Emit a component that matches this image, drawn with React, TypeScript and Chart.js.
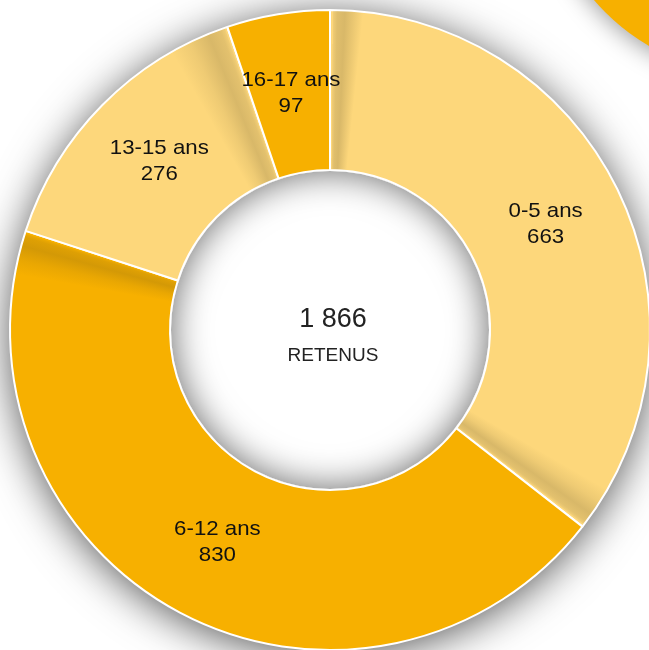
import React, { useEffect, useRef } from "react";
import { Chart, registerables } from "chart.js";

Chart.register(...registerables);

const categories = ["0-5 ans", "6-12 ans", "13-15 ans", "16-17 ans"];
const values = [663, 830, 276, 97];
const colors = ["#FDD77B", "#F7B000", "#FDD77B", "#F7B000"];
const centerValue = "1 866";
const centerLabel = "RETENUS";

const FONT = '"Liberation Sans", Arial, sans-serif';
const DEG = Math.PI / 180;

function shadeSector(ctx: CanvasRenderingContext2D, x: number, y: number, r0: number, r1: number, a0: number, a1: number, reverse: boolean) {
  ctx.save();
  ctx.beginPath();
  ctx.arc(x, y, r1, a0, a1);
  ctx.arc(x, y, r0, a1, a0, true);
  ctx.closePath();
  ctx.clip();
  const span = a1 - a0;
  const g = (ctx as any).createConicGradient(a0, x, y);
  const f = span / (2 * Math.PI);
  const c = (a: number) => `rgba(70,60,30,${a})`;
  if (!reverse) {
    g.addColorStop(0, c(0));
    g.addColorStop(f * 0.35, c(0.08));
    g.addColorStop(f * 0.7, c(0.2));
    g.addColorStop(f * 0.92, c(0.14));
    g.addColorStop(f, c(0.06));
    g.addColorStop(Math.min(1, f + 0.001), c(0));
  } else {
    g.addColorStop(0, c(0.06));
    g.addColorStop(f * 0.15, c(0.16));
    g.addColorStop(f * 0.4, c(0.2));
    g.addColorStop(f, c(0));
    g.addColorStop(Math.min(1, f + 0.001), c(0));
  }
  ctx.fillStyle = g;
  ctx.fillRect(x - r1, y - r1, 2 * r1, 2 * r1);
  ctx.restore();
}

export default function App() {
  const ref = useRef<HTMLCanvasElement>(null);

  useEffect(() => {
    if (!ref.current) return;
    const deco = {
      id: "deco",
      beforeDatasetsDraw(chart: any) {
        const arc = chart.getDatasetMeta(0).data[0];
        const { x, y, outerRadius } = arc.getProps(["x", "y", "outerRadius"], true);
        const ctx = chart.ctx as CanvasRenderingContext2D;
        // neighbouring chart fragment (top-right corner)
        ctx.save();
        ctx.shadowColor = "rgba(0,0,0,0.4)";
        ctx.shadowBlur = 24;
        ctx.shadowOffsetY = 3;
        ctx.beginPath();
        ctx.arc(762, -145, 222, 0, Math.PI * 2);
        ctx.fillStyle = "#F7B000";
        ctx.fill();
        ctx.restore();
        // outer shadow
        ctx.save();
        ctx.shadowColor = "rgba(0,0,0,0.7)";
        ctx.shadowBlur = 44;
        ctx.shadowOffsetY = 5;
        ctx.beginPath();
        ctx.arc(x, y, outerRadius - 1, 0, Math.PI * 2);
        ctx.fillStyle = "#fff";
        ctx.fill();
        ctx.restore();
      },
      afterDatasetsDraw(chart: any) {
        const meta = chart.getDatasetMeta(0);
        const ctx = chart.ctx as CanvasRenderingContext2D;
        const first = meta.data[0];
        const { x, y, outerRadius, innerRadius } = first.getProps(["x", "y", "outerRadius", "innerRadius"], true);
        // 3D shading near segment boundaries
        meta.data.forEach((el: any, i: number) => {
          const p = el.getProps(["startAngle", "endAngle"], true);
          if (i < meta.data.length - 1) {
            const w = i === 2 ? 11 * DEG : 8 * DEG;
            shadeSector(ctx, x, y, innerRadius + 1, outerRadius - 1, p.endAngle - w, p.endAngle - 0.5 * DEG, false);
          }
          if (i === 0) {
            shadeSector(ctx, x, y, innerRadius + 1, outerRadius - 1, p.startAngle + 0.5 * DEG, p.startAngle + 6 * DEG, true);
          }
        });
        // inner shadow in the hole
        ctx.save();
        ctx.beginPath();
        ctx.arc(x, y, innerRadius - 1, 0, Math.PI * 2);
        ctx.clip();
        ctx.shadowColor = "rgba(0,0,0,0.6)";
        ctx.shadowBlur = 36;
        ctx.beginPath();
        ctx.arc(x, y, innerRadius + 30, 0, Math.PI * 2);
        ctx.lineWidth = 62;
        ctx.strokeStyle = "#fff";
        ctx.stroke();
        ctx.restore();
        // segment labels
        ctx.save();
        ctx.fillStyle = "#111";
        ctx.textAlign = "center";
        ctx.textBaseline = "middle";
        ctx.font = `21px ${FONT}`;
        meta.data.forEach((el: any, i: number) => {
          const pos = el.tooltipPosition(true);
          ctx.save();
          ctx.translate(pos.x, pos.y);
          ctx.scale(1.06, 1);
          ctx.fillText(categories[i], 0, -13);
          ctx.fillText(String(values[i]), 0, 13);
          ctx.restore();
        });
        // centre text
        ctx.fillStyle = "#222";
        ctx.font = `27px ${FONT}`;
        ctx.fillText(centerValue, x + 3, y - 10);
        ctx.font = `19px ${FONT}`;
        ctx.fillText(centerLabel, x + 3, y + 26);
        ctx.restore();
      },
    };

    const chart = new Chart(ref.current, {
      type: "doughnut",
      data: {
        labels: categories,
        datasets: [
          {
            data: values,
            backgroundColor: colors,
            borderColor: "#ffffff",
            borderWidth: 2,
            hoverOffset: 0,
          },
        ],
      },
      options: {
        animation: false,
        responsive: false,
        cutout: "50%",
        layout: { padding: 9 },
        plugins: { legend: { display: false }, tooltip: { enabled: false } },
        events: [],
      },
      plugins: [deco],
    });
    return () => chart.destroy();
  }, []);

  return (
    <div style={{ position: "fixed", left: 0, top: 0, width: 649, height: 650, overflow: "hidden", background: "#fff" }}>
      <canvas ref={ref} width={660} height={660} style={{ position: "absolute", left: 0, top: 0, width: 660, height: 660 }} />
    </div>
  );
}
